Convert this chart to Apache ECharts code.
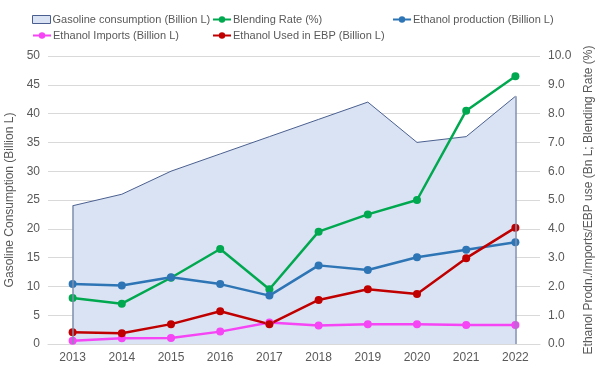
<!DOCTYPE html>
<html><head><meta charset="utf-8">
<script src="https://cdn.jsdelivr.net/npm/echarts@6/dist/echarts.min.js"></script>
<style>html,body{margin:0;padding:0;background:#fff}#c{width:600px;height:371px}</style>
</head><body><div id="c"></div>
<script>
const years = ['2013','2014','2015','2016','2017','2018','2019','2020','2021','2022'];
const gasoline = [24, 26, 30, 33, 36, 39, 42, 35, 36, 43];
const blendingRate = [1.6, 1.4, 2.3, 3.3, 1.9, 3.9, 4.5, 5.0, 8.1, 9.3];
const ethanolProduction = [2.08, 2.03, 2.32, 2.08, 1.68, 2.73, 2.57, 3.01, 3.27, 3.53];
const ethanolImports = [0.11, 0.2, 0.21, 0.43, 0.75, 0.64, 0.69, 0.69, 0.66, 0.66];
const ethanolEBP = [0.41, 0.37, 0.69, 1.14, 0.69, 1.53, 1.9, 1.74, 2.98, 4.04];
const leftTicks = {min: 0, max: 50, interval: 5};
const rightTicks = {min: 0, max: 10, interval: 1};

const names = ['Gasoline consumption (Billion L)','Blending Rate (%)','Ethanol production (Billion L)','Ethanol Imports (Billion L)','Ethanol Used in EBP (Billion L)'];
const ff = 'Liberation Sans, Arial, sans-serif';
const txt = {color:'#595959', fontSize:12, fontFamily:ff};
const AREA_FILL = '#dae3f3', AREA_LINE = '#4a5f8f';
function lg(item, left, top){
  return {data:[item], left:left, top:top, itemWidth:18, itemHeight:8, itemGap:0, padding:0,
    textStyle:{color:'#595959', fontSize:11, fontFamily:ff, padding:[0,0,0,-3]}};
}
function lineS(name, data, color){
  return {name:name, type:'line', yAxisIndex:1, data:data, symbol:'circle', symbolSize:8,
    lineStyle:{color:color, width:2.5}, itemStyle:{color:color}, z:3};
}
const chart = echarts.init(document.getElementById('c'));
chart.setOption({
  animation:false,
  legend:[
    lg({name:names[0], icon:'rect', itemStyle:{color:AREA_FILL, borderColor:AREA_LINE, borderWidth:1}}, 32, 14),
    lg(names[1], 212, 14), lg(names[2], 392, 14),
    lg(names[3], 32, 30), lg(names[4], 212, 30)],
  grid:{left:48, right:60, top:56, bottom:27, containLabel:false, outerBoundsMode:'none'},
  xAxis:{type:'category', data:years, boundaryGap:true,
    axisLine:{lineStyle:{color:'#d9d9d9'}}, axisTick:{show:false},
    axisLabel:Object.assign({}, txt, {margin:8})},
  yAxis:[
    {type:'value', min:leftTicks.min, max:leftTicks.max, interval:leftTicks.interval,
     name:'Gasoline Consumption (Billion L)', nameLocation:'middle', nameGap:32, nameRotate:90,
     nameTextStyle:txt, axisLabel:Object.assign({}, txt, {margin:8}),
     splitLine:{lineStyle:{color:'#d9d9d9'}}, axisLine:{show:false}, axisTick:{show:false}},
    {type:'value', min:rightTicks.min, max:rightTicks.max, interval:rightTicks.interval,
     name:'Ethanol Prodn./Imports/EBP use (Bn L; Blending Rate (%)', nameLocation:'middle', nameGap:40, nameRotate:90,
     nameTextStyle:txt, axisLabel:Object.assign({}, txt, {margin:8, formatter:v=>v.toFixed(1)}),
     splitLine:{show:false}, axisLine:{show:false}, axisTick:{show:false}}
  ],
  series:[
    {name:names[0], type:'line', yAxisIndex:0, data:gasoline, symbol:'none',
     lineStyle:{color:AREA_LINE, width:1}, itemStyle:{color:AREA_FILL, borderColor:AREA_LINE, borderWidth:1},
     areaStyle:{color:AREA_FILL, opacity:1}, z:1,
     markLine:{symbol:'none', silent:true, label:{show:false},
       lineStyle:{color:'#7f8fae', width:1.5, type:'solid'},
       data:[
         [{coord:[years[0],0]},{coord:[years[0],gasoline[0]]}],
         [{coord:[years[years.length-1],0]},{coord:[years[years.length-1],gasoline[gasoline.length-1]]}]
       ]}},
    lineS(names[1], blendingRate, '#00a84f'),
    lineS(names[2], ethanolProduction, '#2e75b6'),
    lineS(names[3], ethanolImports, '#f545f5'),
    lineS(names[4], ethanolEBP, '#c00000')
  ]
});
</script></body></html>
